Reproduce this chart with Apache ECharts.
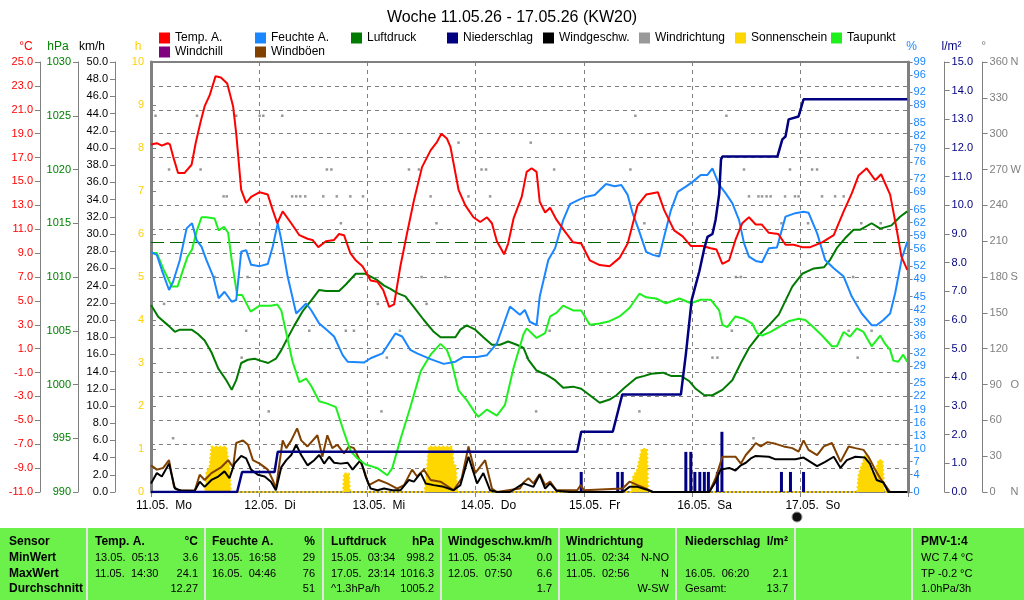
<!DOCTYPE html>
<html><head><meta charset="utf-8">
<script src="https://cdn.jsdelivr.net/npm/echarts@6/dist/echarts.min.js"></script>
<style>html,body{margin:0;padding:0;background:#fff}#c{width:1024px;height:600px}</style>
</head><body><div id="c"></div>
<script>
const dayLabels = ['11.05.  Mo','12.05.  Di','13.05.  Mi','14.05.  Do','15.05.  Fr','16.05.  Sa','17.05.  So'];
const humTicks = [0,4,7,10,13,16,19,22,25,29,32,36,39,42,45,49,52,56,59,62,65,69,72,76,79,82,85,89,92,96,99];
const dirNames = {360:'N',270:'W',180:'S',90:'O',0:'N'};

// [hour since 11.05. 00:00, value]
const tempA = [[0,18.1],[1.3,18.2],[2.4,18.0],[3.7,18.2],[4.2,18.1],[4.9,17.1],[6.0,15.7],[7.4,15.7],[9.0,16.4],[9.9,18.2],[11.0,20.0],[11.9,21.3],[13.0,22.2],[14.3,23.8],[15.5,23.7],[16.9,23.2],[18.2,21.3],[18.9,19.0],[20.0,14.3],[21.1,13.2],[22.2,13.7],[24.1,14.1],[25.9,13.9],[27.0,12.6],[28.0,11.5],[29.2,12.5],[31.1,11.5],[32.9,10.5],[34.7,10.2],[35.8,10.1],[37.1,9.5],[38.8,10.0],[40.6,10.1],[41.7,10.6],[42.8,10.5],[44.2,9.0],[45.4,8.4],[46.9,7.9],[48.7,6.7],[50.2,6.6],[51.5,5.9],[52.8,4.5],[53.9,4.7],[55.3,7.9],[56.8,10.7],[58.3,13.4],[60.1,16.2],[62.0,17.6],[63.4,18.3],[64.4,19.0],[65.6,18.6],[66.4,17.9],[68.2,14.3],[69.7,13.0],[71.5,12.0],[73.0,11.6],[74.5,12.0],[75.6,11.5],[76.7,10.0],[78.3,8.9],[79.2,9.8],[80.4,11.9],[82.2,13.7],[83.3,15.8],[84.4,16.1],[85.5,15.8],[86.2,13.3],[87.4,12.4],[88.5,12.8],[89.9,11.8],[91.8,10.8],[93.6,9.9],[95.4,9.8],[97.3,8.4],[99.5,8.0],[101.7,7.9],[103.9,8.6],[105.7,9.8],[107.9,13.0],[109.8,13.9],[112.4,14.1],[113.8,12.6],[116.0,10.9],[117.9,10.4],[119.7,9.6],[122.3,9.6],[124.1,9.4],[125.4,9.3],[126.7,8.1],[128.2,8.4],[129.6,10.1],[131.1,11.5],[132.6,12.0],[134.1,11.4],[135.4,11.4],[137.0,10.7],[139.1,10.6],[140.7,9.7],[142.5,9.7],[144.4,9.5],[146.2,9.5],[148.8,9.9],[151.4,10.5],[153.6,12.5],[155.4,14.0],[156.9,15.5],[158.7,16.1],[160.6,15.1],[161.9,15.6],[163.9,13.9],[165.3,11.1],[166.4,8.7],[167.7,7.6]];

const humA = [[0,55.2],[1.3,54.6],[2.4,51.1],[4.0,46.5],[4.9,48.4],[6.4,53.4],[7.9,60.7],[9.1,61.9],[10.1,58.0],[11.2,56.5],[12.3,53.4],[13.8,49.6],[15.0,44.6],[16.3,46.1],[17.9,43.8],[18.9,44.2],[20.0,55.3],[21.1,55.7],[22.2,52.3],[24.1,52.0],[25.9,52.5],[27.0,56.5],[28.1,61.9],[28.9,58.0],[30.3,49.6],[32.2,41.1],[34.4,43.4],[35.5,41.9],[37.3,38.8],[39.0,37.3],[40.6,35.8],[42.5,31.5],[43.6,30.0],[47.2,29.8],[48.7,30.8],[51.3,31.9],[54.2,36.5],[55.7,35.8],[57.5,32.7],[59.0,31.9],[62.0,30.6],[64.9,29.5],[67.5,30.0],[69.3,31.1],[72.3,31.1],[74.5,31.5],[76.7,34.2],[79.6,42.7],[81.8,40.8],[82.9,41.9],[84.0,39.2],[85.5,38.4],[86.2,45.0],[88.1,53.4],[89.6,56.1],[91.4,62.6],[92.9,66.3],[94.7,67.2],[96.5,68.0],[98.4,68.4],[100.9,70.9],[102.8,70.4],[104.3,70.7],[105.7,68.4],[106.8,64.2],[107.9,61.1],[109.8,55.3],[111.3,54.6],[112.7,54.2],[113.8,58.8],[115.3,64.9],[116.8,69.1],[118.6,70.3],[120.1,71.4],[121.9,73.0],[123.4,73.0],[124.5,74.5],[126.0,70.7],[127.4,68.8],[128.9,66.5],[130.4,62.6],[131.5,57.3],[132.6,54.2],[134.1,53.2],[135.5,52.9],[137.0,56.1],[138.8,56.3],[140.7,63.4],[142.9,64.2],[144.7,64.5],[145.8,64.3],[147.7,59.6],[149.5,53.4],[151.4,51.5],[153.6,49.6],[155.4,45.0],[157.6,41.1],[159.8,38.4],[160.9,38.4],[162.4,39.6],[163.9,41.1],[165.0,45.7],[166.5,53.8],[167.7,57.6]];

const pressure = [[0,1007.4],[1.6,1006.3],[3.8,1005.5],[5.3,1004.9],[6.4,1005.1],[9.0,1005.1],[10.4,1004.7],[11.9,1004.1],[13.4,1003.0],[14.9,1001.5],[16.7,1000.4],[17.9,999.5],[18.9,1000.4],[20.0,1002.0],[21.5,1002.3],[23.0,1002.4],[24.4,1002.2],[26.0,1002.0],[27.7,1002.4],[28.9,1003.2],[30.0,1004.1],[31.8,1005.5],[33.6,1006.8],[35.5,1007.8],[37.3,1008.8],[38.8,1008.7],[41.7,1008.7],[43.2,1009.3],[45.4,1010.3],[47.6,1010.3],[50.2,1009.7],[51.7,1009.2],[53.1,1008.9],[54.6,1008.5],[56.4,1008.2],[58.3,1007.2],[60.5,1006.0],[62.7,1004.9],[64.2,1004.4],[67.5,1004.4],[68.6,1005.1],[70.0,1005.5],[71.9,1005.1],[73.7,1004.4],[75.6,1003.7],[77.4,1003.7],[79.2,1004.0],[81.1,1003.7],[82.6,1003.4],[83.7,1002.3],[85.5,1001.3],[87.7,1000.9],[89.6,1000.4],[91.4,999.7],[93.6,999.8],[95.4,999.6],[97.3,999.0],[99.5,998.3],[101.7,998.6],[103.2,999.0],[105.0,999.7],[107.6,1000.6],[109.4,1000.8],[110.9,1001.0],[113.5,1001.1],[115.3,1000.8],[117.5,1000.8],[119.4,1000.3],[120.8,999.6],[122.7,999.0],[124.5,999.0],[126.7,999.5],[128.9,1000.4],[130.8,1002.0],[132.6,1003.4],[134.8,1004.6],[137.0,1005.5],[139.2,1006.5],[140.7,1007.8],[142.2,1009.1],[144.4,1010.3],[147.0,1010.8],[149.2,1010.9],[150.6,1011.6],[152.1,1012.7],[153.9,1013.6],[155.8,1014.4],[157.3,1014.4],[159.8,1015.0],[161.7,1014.5],[164.2,1014.8],[166.1,1015.6],[167.7,1016.1]];

const dewPoint = [[0,9.0],[1.3,9.0],[2.7,7.7],[4.6,6.2],[5.9,6.2],[7.1,7.6],[8.1,8.7],[9.1,9.3],[10.1,10.8],[11.2,12.0],[12.3,12.0],[14.1,11.9],[15.0,10.9],[16.2,11.2],[17.1,10.7],[17.9,8.4],[19.1,5.5],[20.2,5.5],[22.1,4.1],[24.1,4.6],[26.6,4.6],[28.0,4.7],[28.9,4.2],[30.0,2.3],[31.4,-0.1],[32.9,-1.8],[34.4,-1.5],[35.5,-2.1],[37.3,-3.4],[39.1,-3.6],[41.0,-3.9],[42.8,-6.0],[44.3,-7.6],[45.8,-8.2],[47.6,-8.7],[50.2,-9.0],[52.4,-9.6],[53.5,-9.0],[55.3,-6.6],[57.5,-3.9],[59.8,-0.9],[62.0,0.5],[64.2,1.4],[65.6,0.9],[66.7,-0.2],[68.2,-2.5],[70.0,-3.3],[71.9,-4.4],[72.6,-4.7],[74.5,-4.1],[76.7,-4.6],[78.5,-3.7],[80.4,-0.6],[82.6,2.2],[83.3,2.7],[85.5,1.9],[87.4,2.3],[88.5,3.7],[89.9,4.0],[91.4,4.6],[93.6,4.2],[95.4,4.2],[97.3,3.0],[99.5,3.1],[101.7,3.3],[103.9,3.7],[106.1,4.4],[108.3,5.6],[109.8,5.3],[112.0,5.2],[114.2,4.8],[117.2,5.2],[119.7,4.8],[121.9,5.1],[124.1,5.1],[126.0,4.2],[126.7,3.0],[127.8,2.8],[129.6,3.7],[131.5,3.5],[133.3,3.1],[134.4,2.3],[135.5,2.1],[137.4,2.4],[139.2,2.8],[141.4,3.3],[143.6,3.5],[145.1,3.4],[146.9,2.8],[148.8,2.1],[151.0,1.2],[152.1,1.2],[153.6,2.4],[155.0,2.0],[156.5,2.7],[158.0,2.4],[159.8,1.2],[161.7,2.1],[162.8,1.4],[163.9,0.9],[164.6,0.0],[165.7,-0.1],[166.8,0.5],[167.7,-0.1]];

const rainTotal = [[0,0],[19.1,0],[20.2,0.7],[27.4,0.7],[28.1,1.4],[94.5,1.4],[95.4,2.1],[102.4,2.1],[104.5,3.4],[117.5,3.4],[118.6,4.8],[119.9,6.7],[121.6,7.7],[122.7,8.5],[123.4,8.9],[124.5,9.0],[125.2,9.5],[126.0,10.4],[126.4,11.6],[126.7,11.7],[138.9,11.7],[140.0,12.3],[140.7,12.4],[141.4,13.0],[143.6,13.1],[144.7,13.7],[167.7,13.7]];
const rainBars = [[95.4,0.7],[103.5,0.7],[104.5,0.7],[118.6,1.4],[119.7,1.4],[120.6,0.7],[121.7,0.7],[122.7,0.7],[123.6,0.7],[125.6,0.7],[126.6,2.1],[139.8,0.7],[141.8,0.7],[144.7,0.7]];

const windSpeed = [[0,1.0],[1.3,2.2],[2.4,1.8],[4.0,3.3],[5.3,0.4],[6.8,0.15],[9.7,0.15],[10.8,1.2],[11.9,0.6],[13.4,1.4],[14.9,1.8],[16.3,2.4],[17.4,1.6],[18.5,3.3],[20.0,4.2],[21.1,3.9],[22.2,2.6],[23.7,2.0],[25.2,1.8],[26.6,1.2],[27.7,0.2],[28.9,2.9],[30.0,3.7],[31.1,4.3],[32.2,5.5],[33.3,4.3],[34.7,3.1],[36.2,3.7],[37.3,4.3],[38.4,3.3],[39.5,4.1],[40.6,3.4],[42.1,3.3],[43.6,3.4],[44.7,2.6],[45.8,3.3],[46.5,3.7],[47.6,1.8],[48.7,0.4],[50.2,0.2],[51.7,0.4],[53.5,0.2],[55.3,0.2],[57.2,1.4],[58.3,1.2],[59.8,2.2],[60.9,1.0],[62.7,0.8],[64.9,0.6],[67.1,0.2],[68.6,0.8],[70.4,4.1],[72.3,1.0],[73.7,2.2],[75.2,0.2],[76.7,0],[79.6,0],[82.6,1.0],[83.7,0.8],[84.8,0.6],[86.2,2.0],[87.4,0.4],[88.5,1.0],[89.9,0.15],[92.9,0],[104.6,0],[106.1,0.6],[107.9,0.6],[109.8,0.3],[111.3,0],[123.8,0],[125.2,1.2],[126.3,2.6],[128.2,2.8],[129.6,2.5],[130.8,3.1],[131.9,3.4],[133.0,3.9],[134.1,4.2],[137.0,4.1],[138.5,3.8],[140.7,3.8],[142.9,3.8],[144.7,4.0],[146.2,3.5],[147.7,3.0],[149.5,3.5],[151.4,4.1],[152.9,2.8],[154.3,3.7],[156.2,4.1],[158.3,4.0],[159.4,3.3],[160.9,1.4],[162.4,1.1],[163.5,0],[167.7,0]];

const windGust = [[0,3.1],[1.3,2.6],[2.7,2.8],[4.0,3.7],[5.1,0.6],[6.0,0.2],[9.7,0.15],[10.8,2.0],[11.9,1.4],[13.4,2.2],[15.6,2.9],[17.1,3.7],[18.2,2.9],[18.9,5.7],[20.4,6.0],[21.5,5.5],[22.6,3.7],[24.1,3.3],[25.9,2.6],[27.0,1.4],[27.7,0.4],[29.2,6.0],[30.0,5.1],[31.1,6.0],[32.4,7.4],[33.3,6.0],[34.7,5.3],[36.9,6.6],[38.0,4.1],[39.1,6.6],[40.2,5.1],[41.3,5.5],[42.8,4.5],[43.9,5.3],[45.0,5.1],[46.1,3.9],[47.2,2.6],[48.3,0.8],[50.5,1.4],[52.4,1.0],[54.6,0.4],[56.1,0.8],[57.9,2.6],[59.0,1.8],[60.5,2.6],[62.0,1.4],[64.2,1.2],[67.1,0.2],[68.9,1.6],[70.4,5.3],[71.9,2.2],[74.1,3.7],[75.6,0.4],[76.7,0],[81.8,0.4],[82.6,1.1],[83.7,1.6],[84.8,1.0],[86.2,2.1],[87.4,0.8],[88.5,1.2],[89.9,0.2],[94.5,0.2],[95.3,0.8],[96.0,0.2],[104.6,0.4],[106.1,1.2],[107.9,0.8],[109.8,0.4],[111.3,0],[123.8,0],[125.2,1.6],[126.7,4.1],[129.6,4.1],[130.8,3.3],[131.9,4.3],[133.4,5.2],[134.1,5.7],[135.2,5.3],[136.7,5.8],[138.5,5.6],[140.3,5.3],[142.2,5.1],[143.6,4.7],[144.7,6.0],[145.8,4.9],[147.7,4.3],[149.2,5.3],[151.0,5.7],[152.9,3.5],[154.7,5.3],[156.2,5.1],[158.0,4.9],[159.1,4.1],[160.6,2.6],[161.7,1.6],[162.8,0.8],[163.9,0],[167.7,0]];

const windDir = [[1.0,315],[2.9,157.5],[4.0,270],[4.9,45],[10.2,315],[11.0,270],[14.1,180],[16.1,247.5],[16.8,247.5],[18.9,315],[20.1,112.5],[21.1,135],[21.4,180],[24.1,315],[24.9,315],[26.1,67.5],[29.1,315],[31.3,247.5],[32.2,247.5],[33.1,247.5],[34.2,247.5],[35.1,135],[38.2,247.5],[39.0,270],[40.0,270],[41.2,247.5],[42.1,225],[43.2,135],[44.2,247.5],[45.0,135],[47.0,247.5],[50.3,157.5],[51.1,67.5],[52.3,112.5],[55.2,135],[57.2,270],[59.4,270],[60.0,180],[61.1,157.5],[62.0,247.5],[63.3,225],[65.3,180],[68.2,292.5],[70.4,247.5],[73.3,270],[74.3,270],[75.2,247.5],[83.4,112.5],[84.2,292.5],[85.4,67.5],[88.4,135],[89.4,270],[106.3,270],[107.4,315],[108.3,67.5],[109.4,225],[124.5,112.5],[125.6,112.5],[127.6,315],[128.8,135],[129.7,180],[130.8,180],[131.5,270],[132.6,247.5],[133.6,45],[134.7,247.5],[135.5,247.5],[136.5,247.5],[137.4,247.5],[139.8,225],[140.6,247.5],[141.7,270],[142.8,247.5],[143.6,247.5],[145.7,225],[146.6,270],[147.7,270],[148.8,247.5],[151.7,247.5],[153.6,247.5],[154.7,135],[155.7,180],[156.7,112.5],[157.5,225],[159.8,135],[161.8,225]];

const sunshine = [[0,0],[12.0,0],[12.3,0.47],[13.0,0.6],[13.4,1.05],[16.7,1.05],[17.1,0.74],[17.4,0.6],[17.7,0],[42.6,0],[42.8,0.43],[43.9,0.43],[44.1,0],[60.6,0],[60.9,0.2],[61.6,1.05],[66.7,1.05],[67.1,0.67],[67.6,0.6],[67.9,0],[106.5,0],[106.8,0.33],[107.8,0.51],[108.8,1.0],[110.0,1.0],[110.2,0],[156.6,0],[156.9,0.4],[157.6,0.63],[158.6,0.9],[159.1,0.78],[159.8,0.47],[160.5,0.4],[161.3,0.74],[162.2,0.74],[162.6,0],[168,0]];
const windChill = [];

// table texts
const tableRowNames = ['Sensor','MinWert','MaxWert','Durchschnitt'];
const tableCols = [
  {l:95, r:198, head:['Temp. A.','°C'], rows:[['13.05.  05:13','3.6'],['11.05.  14:30','24.1'],['','12.27']]},
  {l:212, r:315, head:['Feuchte A.','%'], rows:[['13.05.  16:58','29'],['16.05.  04:46','76'],['','51']]},
  {l:331, r:434, head:['Luftdruck','hPa'], rows:[['15.05.  03:34','998.2'],['17.05.  23:14','1016.3'],['^1.3hPa/h','1005.2']]},
  {l:448, r:552, head:['Windgeschw.','km/h'], rows:[['11.05.  05:34','0.0'],['12.05.  07:50','6.6'],['','1.7']]},
  {l:566, r:669, head:['Windrichtung',''], rows:[['11.05.  02:34','N-NO'],['11.05.  02:56','N'],['','W-SW']]},
  {l:685, r:788, head:['Niederschlag','l/m²'], rows:[['',''],['16.05.  06:20','2.1'],['Gesamt:','13.7']]},
  {l:921, r:1020, head:['PMV-1:4',''], rows:[['WC 7.4 °C',''],['TP -0.2 °C',''],['1.0hPa/3h','']]}
];
const tableSeps = [87, 205, 323, 441, 559, 676, 795, 912];
const rowY = [541.5, 557.5, 573.5, 589];

const F = '"Liberation Sans", Arial, sans-serif';
const FS = 11;
const graphics = [];
graphics.push({type:'rect', shape:{x:0,y:528,width:1024,height:72}, style:{fill:'#6cf04a'}, silent:true});
tableSeps.forEach(x => graphics.push({type:'rect', shape:{x:x-1,y:528,width:2,height:72}, style:{fill:'#e4e4e4'}, silent:true}));
tableRowNames.forEach((t,i) => graphics.push({type:'text', x:9, y:rowY[i], style:{text:t, font:'bold 12px '+F, fill:'#000', align:'left', verticalAlign:'middle'}}));
tableCols.forEach(c => {
  graphics.push({type:'text', x:c.l, y:rowY[0], style:{text:c.head[0], font:'bold 12px '+F, fill:'#000', align:'left', verticalAlign:'middle'}});
  if (c.head[1]) graphics.push({type:'text', x:c.r, y:rowY[0], style:{text:c.head[1], font:'bold 12px '+F, fill:'#000', align:'right', verticalAlign:'middle'}});
  c.rows.forEach((r,i) => {
    if (r[0]) graphics.push({type:'text', x:c.l, y:rowY[i+1], style:{text:r[0], font:FS+'px '+F, fill:'#000', align:'left', verticalAlign:'middle'}});
    if (r[1]) graphics.push({type:'text', x:c.r, y:rowY[i+1], style:{text:r[1], font:FS+'px '+F, fill:'#000', align:'right', verticalAlign:'middle'}});
  });
});
graphics.push({type:'circle', shape:{cx:797, cy:517, r:5}, style:{fill:'#111', stroke:'#999', lineWidth:1}});

const grey = '#808080';
function yax(o) {
  const base = {
    type:'value', splitLine:{show:false},
    axisLine:{show:true, onZero:false, lineStyle:{color:grey, width:1}},
    axisTick:{show:true, length:5, lineStyle:{color:grey}},
    axisLabel:{fontSize:FS, fontFamily:F, margin:7},
    nameGap:9, nameTextStyle:{fontSize:12, fontFamily:F}
  };
  const r = Object.assign({}, base, o);
  r.axisLabel = Object.assign({}, base.axisLabel, o.axisLabel||{});
  r.nameTextStyle = Object.assign({}, base.nameTextStyle, o.nameTextStyle||{});
  return r;
}

const option = {
  animation:false,
  backgroundColor:'#fff',
  title:{text:'Woche 11.05.26 - 17.05.26 (KW20)', left:'center', top:5, textStyle:{fontSize:16, fontWeight:'normal', color:'#000', fontFamily:F}},
  legend:{left:159, top:32, width:775, padding:0, itemWidth:11, itemHeight:11, itemGap:2, icon:'rect',
    formatter: n => '{a|' + n + '}',
    textStyle:{fontSize:12, fontFamily:F, color:'#000', rich:{a:{width:78, fontSize:12, fontFamily:F, color:'#000', lineHeight:15}}},
    data:['Temp. A.','Feuchte A.','Luftdruck','Niederschlag','Windgeschw.','Windrichtung','Sonnenschein','Taupunkt','Windchill','Windböen']},
  grid:{left:151, right:112, top:62, bottom:108, show:true, borderColor:grey, borderWidth:2, backgroundColor:'#fff'},
  xAxis:{type:'value', min:0, max:168, interval:24,
    axisLine:{show:true, onZero:false, lineStyle:{color:grey}},
    axisTick:{show:true, length:5, lineStyle:{color:grey}},
    splitLine:{show:true, lineStyle:{color:grey, type:[4,4], width:1}},
    axisLabel:{margin:8, fontSize:12, fontFamily:F, color:'#000', align:'center',
      formatter:v => (v%24===0 && v/24 < dayLabels.length) ? '{a|'+dayLabels[v/24]+'}' : '',
      rich:{a:{width:50, align:'left', padding:[0,0,0,20], fontSize:12, fontFamily:F, color:'#000'}}}},
  yAxis:[
    yax({name:'°C', position:'left', offset:111, min:-11, max:25, interval:2,
      axisLabel:{color:'#ff0000', formatter:v=>v.toFixed(1)},
      nameTextStyle:{color:'#ff0000', padding:[0,28,0,0]},
      splitLine:{show:true, lineStyle:{color:grey, type:[4,4], width:1}}}),
    yax({name:'hPa', position:'left', offset:73, min:990, max:1030, interval:5,
      axisLabel:{color:'#008000', formatter:v=>String(v)}, nameTextStyle:{color:'#008000', padding:[0,40,0,0]}}),
    yax({name:'km/h', position:'left', offset:36, min:0, max:50, interval:2,
      axisLabel:{color:'#000', formatter:v=>v.toFixed(1)}, nameTextStyle:{color:'#000', padding:[0,46,0,0]}}),
    yax({name:'h', position:'left', offset:0, min:0, max:10, interval:1,
      axisLine:{show:true, lineStyle:{color:grey, width:3}},
      axisTick:{show:true, inside:true, length:5, lineStyle:{color:grey}},
      axisLabel:{color:'#ffd000', margin:7}, nameTextStyle:{color:'#ffd000', padding:[0,26,0,0]}}),
    yax({name:'%', position:'right', offset:0, min:0, max:99,
      axisLine:{show:true, lineStyle:{color:grey, width:3}},
      axisTick:{show:true, length:4, customValues:humTicks, lineStyle:{color:grey}},
      axisLabel:{color:'#1a86ff', margin:5, customValues:humTicks}, nameTextStyle:{color:'#1a86ff', padding:[0,0,0,6]}}),
    yax({name:'l/m²', position:'right', offset:36, min:0, max:15, interval:1,
      axisLabel:{color:'#000080', formatter:v=>v.toFixed(1)}, nameTextStyle:{color:'#000080', padding:[0,0,0,14]}}),
    yax({name:'°', position:'right', offset:74, min:0, max:360, interval:30,
      axisLabel:{color:grey, formatter:v => dirNames[v] !== undefined ? '{n|'+v+'}{d|'+dirNames[v]+'}' : String(v),
        rich:{n:{width:21, color:grey, fontSize:FS, fontFamily:F}, d:{color:grey, fontSize:FS, fontFamily:F}}},
      nameTextStyle:{color:grey, padding:[0,0,0,2]}})
  ],
  series:[
    {name:'Sonnenschein', type:'line', yAxisIndex:3, data:sunshine, color:'#ffd700', symbol:'none',
      lineStyle:{width:2, type:'dotted', color:'#ffd700'}, areaStyle:{color:'#ffd700', opacity:1}, z:2},
    {name:'Niederschlag', type:'bar', yAxisIndex:5, data:rainBars, color:'#000080', barWidth:3, z:3},
    {name:'Windböen', type:'line', yAxisIndex:2, data:windGust, color:'#804000', symbol:'none', lineStyle:{width:2}, z:4},
    {name:'Windgeschw.', type:'line', yAxisIndex:2, data:windSpeed, color:'#000000', symbol:'none', lineStyle:{width:2}, z:5},
    {name:'Windrichtung', type:'scatter', yAxisIndex:6, data:windDir, color:grey, symbol:'rect', symbolSize:2.5, z:5},
    {name:'Luftdruck', type:'line', yAxisIndex:1, data:pressure, color:'#007a00', symbol:'none', lineStyle:{width:2}, z:6,
      markLine:{silent:true, symbol:'none', label:{show:false}, lineStyle:{color:'#006400', type:[13,6], width:1.2}, data:[{yAxis:1013.25}]}},
    {name:'Taupunkt', type:'line', yAxisIndex:0, data:dewPoint, color:'#1ef01e', symbol:'none', lineStyle:{width:2}, z:7},
    {name:'Feuchte A.', type:'line', yAxisIndex:4, data:humA, color:'#1a86ff', symbol:'none', lineStyle:{width:2}, z:8},
    {name:'Windchill', type:'line', yAxisIndex:0, data:windChill, color:'#800080', symbol:'none', lineStyle:{width:2}, z:8},
    {name:'Temp. A.', type:'line', yAxisIndex:0, data:tempA, color:'#ff0000', symbol:'none', lineStyle:{width:2}, z:9},
    {name:'Niederschlag', type:'line', yAxisIndex:5, data:rainTotal, color:'#000080', symbol:'none', lineStyle:{width:2.5}, z:10}
  ],
  graphic:graphics
};
const chart = echarts.init(document.getElementById('c'), null, {renderer:'canvas'});
chart.setOption(option);
</script></body></html>
